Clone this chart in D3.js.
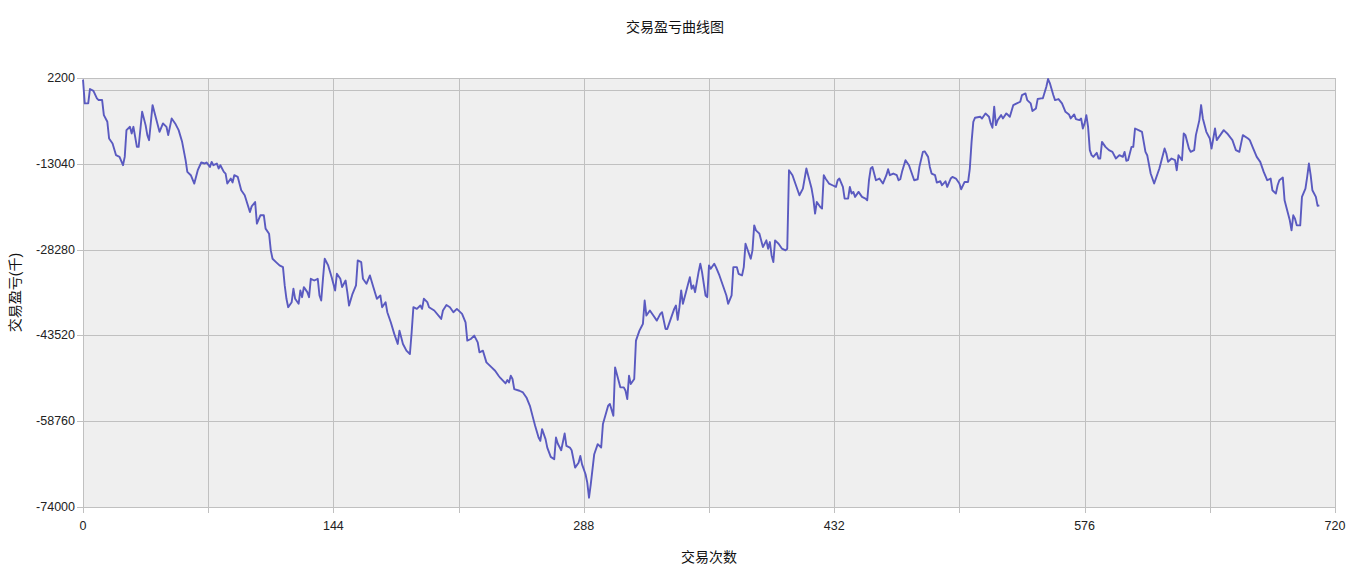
<!DOCTYPE html>
<html>
<head>
<meta charset="utf-8">
<script src="https://cdn.jsdelivr.net/npm/d3@7"></script>
<style>
  body { margin: 0; background: #fff; }
  text { font-family: "Liberation Sans", Arial, "Noto Sans CJK SC", sans-serif; }
</style>
</head>
<body>
<div id="chart"></div>
<script>
// trade number and cumulative P&L
const tradeNo = [
  0, 1, 3, 4, 6, 8, 9, 11, 12, 14, 15, 17, 19, 21, 23, 24, 25, 27, 28, 29, 31, 32, 34, 36, 37, 38, 40, 41, 44, 46,
  48, 49, 51, 53, 55, 57, 59, 60, 62, 64, 66, 68, 70, 71, 73, 74, 75, 77, 78, 79, 81, 82, 83, 85, 86, 87, 89, 91, 93, 96,
  97, 99, 100, 102, 104, 105, 107, 108, 109, 111, 113, 115, 116, 117,
  118, 120, 121, 122, 124, 125, 126, 127, 129, 130, 131, 133, 135, 136, 137, 138, 139, 141, 143, 145, 146, 148, 149, 151, 152, 153,
  155, 157, 158, 160, 161, 163, 165, 167, 169, 171, 172, 174, 175, 177, 179, 181, 182, 184, 186, 188, 189, 190, 192, 194, 195, 196,
  198, 199, 202, 206, 207, 209, 211, 213, 215, 218, 220, 221, 223, 225, 227, 228, 230,
  232, 235, 237, 239, 240, 243, 244, 245, 246, 247, 248, 251, 253, 255, 257, 259, 260, 262, 263, 264, 266, 267, 269, 271, 272, 273,
  275, 277, 278, 280, 281, 283, 285, 286, 287, 289, 290, 291, 292, 294, 296, 298, 299, 302, 303, 305, 306, 309, 311, 312, 313, 314,
  315, 317, 318, 320, 321, 322, 323, 324, 326, 328, 330, 332, 333, 335, 336, 338, 340, 341, 342, 343, 344,
  345, 347, 349, 350, 351, 352, 354, 355, 356, 358, 359, 360, 361, 363, 364, 366, 368, 370, 371, 373, 374, 376, 377, 379, 380, 381,
  382, 384, 385, 386, 387, 389, 391, 393, 394, 395, 396, 397, 398, 400, 402, 404, 405, 406, 408, 409, 411, 412, 414, 416, 417, 419,
  420, 421, 422, 424, 425, 426, 427, 429, 431, 433, 434, 435, 437, 438, 440, 441, 442, 443, 444, 446, 448, 450, 451, 452, 453, 454,
  456, 458,
  460, 462, 463, 464, 466, 468, 469, 470, 471, 473, 475, 476, 478, 480, 481, 483, 484, 486, 487, 488, 490, 491, 493, 494, 496, 497,
  499, 500, 502, 504, 505, 507, 509, 510, 511, 512, 513, 516, 517, 519, 521, 522, 523, 524, 525, 526, 528, 529, 531, 533, 535, 537,
  539, 540, 542, 543, 545, 546, 548, 549, 551, 552, 554, 555, 556, 558, 559, 561, 563, 565, 567, 568, 570, 571, 573, 574,
  575, 576, 577, 578, 579, 580, 581, 583, 584, 585, 586, 588, 590, 592, 594, 596, 598, 599, 600, 601, 603, 604, 605, 607, 609, 611,
  612, 614, 616, 618, 619, 622, 623, 624, 626, 628, 629, 630, 632, 633, 634, 636, 637, 639, 640, 642, 643, 644, 646, 648, 649, 651,
  652, 654, 656, 658, 661, 663, 665, 667, 670, 671, 673, 675, 677, 679, 681, 683, 684, 686, 687, 688, 690, 691, 692, 694, 695, 696,
  697, 698, 700, 701, 703, 704, 705, 706, 707, 709, 710, 711
]

const pnl = [
  1900, -2300, -2300, 240, -100, -1410, -1720, -1720, -4390, -5580, -8540, -9430, -11510, -11810, -13290, -11810, -7060, -6470, -7650, -6470, -10030, -10030, -3800, -6170, -7950, -8840, -2610, -3800, -7360, -5870,
  -6470, -7950, -4980, -5870, -7060, -9140, -12400, -14480, -15070, -16550, -14180, -12810, -12990, -12800, -13590, -12700, -13290, -13000, -13880, -13290, -14480, -14780, -16550, -15660, -16360, -15070, -15370, -17740, -18630, -21600,
  -20600, -19820, -23670, -22190, -22190, -24560, -25450, -28420, -29900, -30500, -31090, -31400, -34650, -37020,
  -38510, -37620, -35240, -37020, -37910, -35540, -36730, -34950, -35840, -36730, -33470, -33770, -33470, -36430, -37320, -33470, -29900, -31090, -33180, -35540, -32580, -33470, -34950, -33770, -35840, -38210,
  -36140, -34650, -30200, -30500, -33470, -34360, -32870, -34950, -37020, -36430, -38510, -37620, -39400, -41190, -43250, -45040, -42670, -45040, -46230, -46820, -42970, -38510, -38800, -38210, -38800, -37020,
  -37620, -38510, -39100, -40590, -39100, -38110, -38510, -39400, -38810, -39690, -41190, -44450, -44160, -43550, -44750, -46530, -46230,
  -48310, -49200, -49790, -50680, -51080, -52050, -51460, -51870, -50680, -51270, -53050, -53350, -53650, -54540, -56020, -58390, -59580, -61660, -62250, -60170, -61950, -63460, -65100, -65510, -61660, -62730,
  -63910, -60950, -63140, -63440, -63910, -67010, -66130, -64920, -66420, -68180, -69670, -72350, -69960, -64620, -62840, -63440, -59270, -56020, -55700, -57800, -49200, -52750, -52750, -53350, -54830, -50680,
  -52160, -51270, -44450, -42670, -42080, -41480, -37320, -39990, -39100, -39990, -40890, -39690, -39400, -42370, -42370, -40590, -38800, -38210, -40770, -38510, -35540,
  -37910, -35540, -33170, -35240, -34650, -35840, -32280, -30790, -32280, -36430, -36730, -31090, -31680, -30790, -31390, -32870, -34650, -36430, -37910, -36430, -31390, -31390, -32580, -32870, -31390, -27230,
  -28120, -29900, -28420, -23970, -24860, -25450, -27830, -26640, -28120, -26940, -29310, -30500, -26640, -27230, -28120, -28420, -28120, -14180, -15070, -15960, -17740, -18630, -17440, -13880, -15070, -17440,
  -19220, -21890, -19820, -20710, -21000, -15070, -15660, -16550, -16850, -17150, -15960, -15660, -17150, -19220, -19220, -17150, -18330, -18030, -18920, -18030, -18920, -19220, -19520, -15960, -13880, -13590,
  -15960, -15660,
  -16550, -15070, -14000, -15070, -14770, -15070, -15960, -15790, -14470, -12400, -13290, -14180, -15960, -15790, -13590, -10920, -10830, -11810, -13590, -14770, -15070, -16370, -16140, -16850, -16140, -17150,
  -15660, -15370, -15660, -16550, -17560, -16260, -16260, -13880, -9140, -5580, -4860, -4680, -5000, -4090, -4680, -5870, -6640, -2900, -6170, -5280, -4390, -4980, -4090, -4680, -2610, -2310,
  -2020, -830, -530, -1720, -2310, -3670, -3220, -1540, -1420, -1410, 650, 2020, 1310, -830, -1720, -1540, -2310, -3800, -4270, -4980, -4270, -5100, -5280, -5000,
  -6770, -5870, -4390, -6470, -10620, -11510, -11810, -11100, -12100, -12100, -9140, -10030, -10620, -10920, -12100, -11510, -11810, -10920, -12520, -12400, -10030, -10030, -6770, -7060, -7360, -10920,
  -11510, -14770, -16550, -14770, -13880, -10330, -11220, -12700, -12100, -12400, -14180, -11510, -12400, -7650, -7950, -10330, -10920, -10620, -7950, -5280, -2610, -4980, -7360, -8540, -10330, -6770,
  -8840, -7950, -7060, -7650, -8840, -10620, -10920, -7950, -8540, -8840, -10330, -11810, -12700, -14480, -15960, -15660, -17740, -18330, -16850, -15960, -15480, -19520, -20710, -23080, -24860, -22190,
  -22790, -23970, -23970, -18920, -17440, -15370, -12990, -15070, -17740, -18920, -20510, -20420
]

const xTicks = [0, 144, 288, 432, 576, 720]
const xGrid = d3.range(0, 721, 72)
const yTicks = [2200, -13040, -28280, -43520, -58760, -74000]
const yGrid = [2200, 0, -13040, -28280, -43520, -58760, -74000]

const titleText = '交易盈亏曲线图'
const xLabel = '交易次数'
const yLabel = '交易盈亏(千)'

// outer svg dimensions
const width = 1350
const height = 576
const padding = { top: 78, right: 15, bottom: 69, left: 83 }
const plotW = width - padding.left - padding.right
const plotH = height - padding.top - padding.bottom

const xScale = d3.scaleLinear().domain([0, 720]).range([0, plotW])
const yScale = d3.scaleLinear().domain([-74000, 2200]).range([plotH, 0])

const svg = d3.select('#chart').append('svg').attr('width', width).attr('height', height)
const g = svg.append('g').attr('transform', `translate(${padding.left} ${padding.top})`)

// plot background
g.append('rect')
  .attr('width', plotW).attr('height', plotH)
  .attr('fill', '#efefef')

// vertical grid lines, extended a bit below as ticks
g.append('g').selectAll('line').data(xGrid).enter().append('line')
  .attr('x1', d => Math.round(xScale(d)) + 0.5).attr('x2', d => Math.round(xScale(d)) + 0.5)
  .attr('y1', 0).attr('y2', plotH + 6)
  .attr('stroke', '#c0c0c0').attr('stroke-width', 1)

// horizontal grid lines, extended a bit left as ticks
g.append('g').selectAll('line').data(yGrid).enter().append('line')
  .attr('x1', d => yTicks.includes(d) ? -6 : 0).attr('x2', plotW)
  .attr('y1', d => Math.round(yScale(d)) + 0.5).attr('y2', d => Math.round(yScale(d)) + 0.5)
  .attr('stroke', '#c0c0c0').attr('stroke-width', 1)

// tick labels
g.append('g').selectAll('text').data(xTicks).enter().append('text')
  .attr('x', d => xScale(d)).attr('y', plotH + 23)
  .attr('text-anchor', 'middle').attr('font-size', 12.5).attr('fill', '#222')
  .text(d => d)

g.append('g').selectAll('text').data(yTicks).enter().append('text')
  .attr('x', -8).attr('y', d => yScale(d) + 4)
  .attr('text-anchor', 'end').attr('font-size', 12.5).attr('fill', '#222')
  .text(d => d)

// the P&L line
const series = tradeNo.map((t, i) => ({ t, v: pnl[i] }))
const line = d3.line().x(d => xScale(d.t)).y(d => yScale(d.v))
g.append('path')
  .datum(series)
  .attr('d', line)
  .attr('fill', 'none')
  .attr('stroke', '#5a5ac0')
  .attr('stroke-width', 1.9)
  .attr('stroke-linejoin', 'round')

// titles
svg.append('text')
  .attr('x', width / 2).attr('y', 32)
  .attr('text-anchor', 'middle').attr('font-size', 14).attr('fill', '#111')
  .text(titleText)

svg.append('text')
  .attr('x', padding.left + plotW / 2).attr('y', 562)
  .attr('text-anchor', 'middle').attr('font-size', 14).attr('fill', '#111')
  .text(xLabel)

svg.append('text')
  .attr('transform', `translate(20 ${padding.top + plotH / 2}) rotate(-90)`)
  .attr('text-anchor', 'middle').attr('font-size', 14).attr('fill', '#111')
  .text(yLabel)
</script>
</body>
</html>
